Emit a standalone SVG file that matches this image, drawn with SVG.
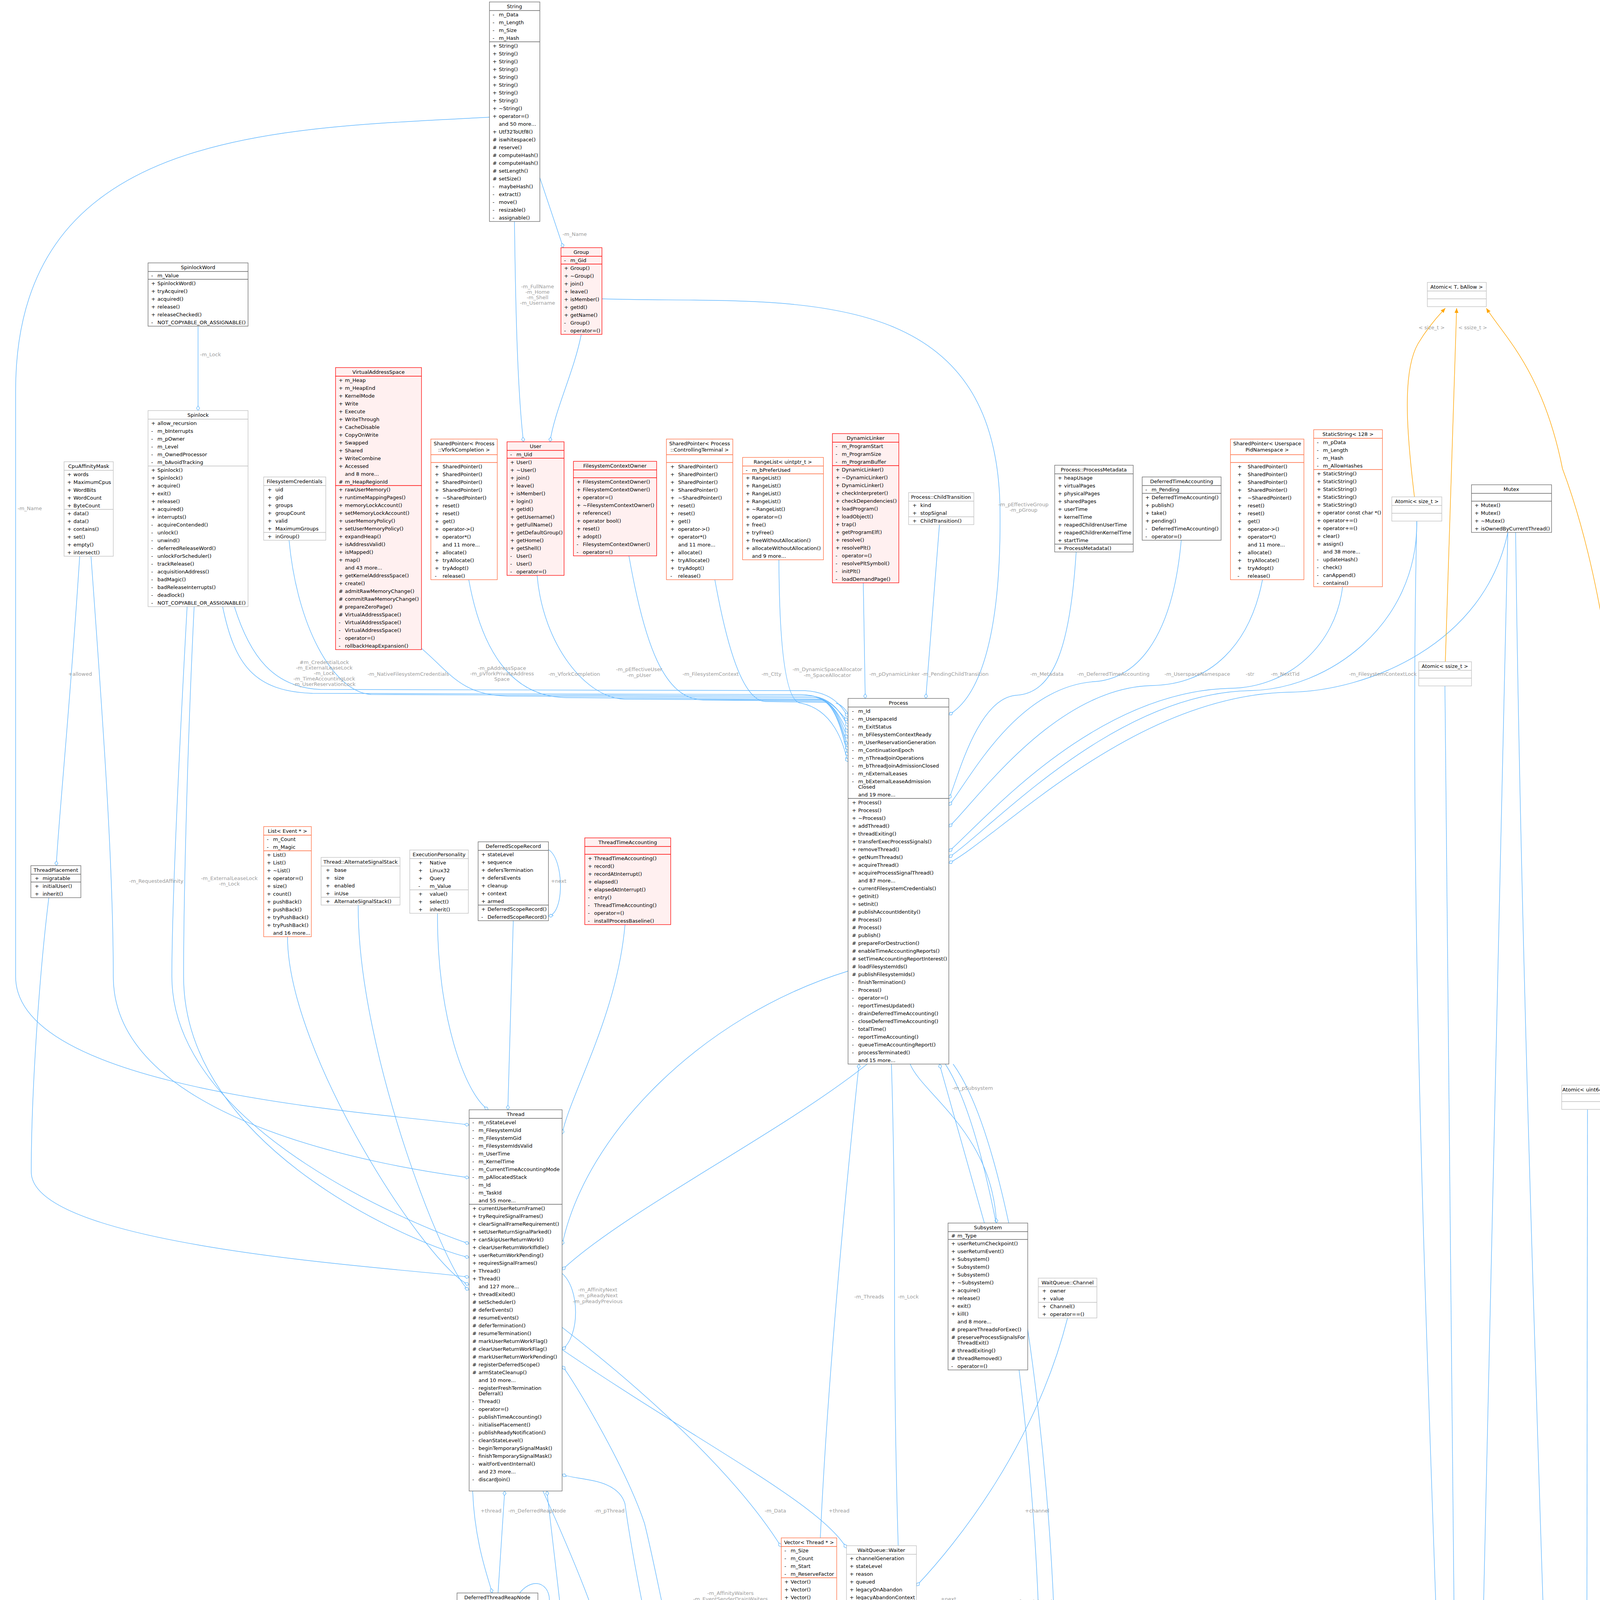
<svg xmlns="http://www.w3.org/2000/svg" width="4266" height="6691" viewBox="0 0 4266 6691">
<style>
text{font-family:"DejaVu Sans",sans-serif;font-size:13px;fill:#000}
.t{text-anchor:middle}
.e{fill:#9c9c9c;text-anchor:middle}
.es{fill:#9c9c9c}
.n path{fill:none;stroke-width:1.3}
.n rect{stroke-width:1.3}
.nb rect{fill:#fff;stroke:#666}.nb path{stroke:#666}
.ng rect{fill:#fff;stroke:#bfbfbf}.ng path{stroke:#bfbfbf}
.nr rect{fill:#fff0f0;stroke:#f00}.nr path{stroke:#f00}
.no rect{fill:#fff;stroke:#ff6a3d}.no path{stroke:#ff6a3d}
.nx rect{fill:#999;stroke:#666}
#edges path{fill:none;stroke:#63b8ff;stroke-width:1.4}
#edges path.or{stroke:#ffa500}
</style>
<defs>
<marker id="d" viewBox="0 0 14 10" markerWidth="14" markerHeight="10" refX="13" refY="5" orient="auto" markerUnits="userSpaceOnUse"><path d="M1,5 L7,1 13,5 7,9 z" fill="#fff" stroke="#63b8ff" stroke-width="1.3"/></marker>
<marker id="a" viewBox="0 0 12 10" markerWidth="12" markerHeight="10" refX="12" refY="5" orient="auto" markerUnits="userSpaceOnUse"><path d="M0,0 L12,5 0,10 z" fill="#ffa500"/></marker>
<marker id="h" viewBox="0 0 14 12" markerWidth="14" markerHeight="12" refX="13" refY="6" orient="auto" markerUnits="userSpaceOnUse"><path d="M1,1 L13,6 1,11 z" fill="#fff" stroke="#63b8ff" stroke-width="1.3"/></marker>
</defs>
<rect width="4266" height="6691" fill="#fff"/>
<g id="edges">
<path d="M1317,567 C1320,800 1325,1000 1340,1131" marker-end="url(#d)"/>
<path d="M1488,856 C1470,950 1420,1050 1408,1131" marker-end="url(#d)"/>
<path d="M1382,455 L1442,634" marker-end="url(#d)"/>
<path d="M507,835 L507,1051" marker-end="url(#d)"/>
<path d="M1253,300 C700,330 40,330 40,1000 L40,2500 C40,2800 1000,2850 1201,2880" marker-end="url(#d)"/>
<path d="M570,1553 C600,1700 650,1770 800,1775 L2050,1778 C2130,1780 2150,1830 2171,1845" marker-end="url(#d)"/>
<path d="M600,1553 C640,1680 700,1760 820,1765 L2060,1768 C2140,1772 2160,1820 2171,1835" marker-end="url(#d)"/>
<path d="M740,1383 C760,1600 850,1770 950,1778 L2080,1782 C2140,1790 2160,1840 2171,1860" marker-end="url(#d)"/>
<path d="M1079,1660 C1150,1720 1180,1780 1300,1782 L2090,1786 C2140,1795 2160,1860 2171,1875" marker-end="url(#d)"/>
<path d="M1200,1484 C1230,1650 1300,1784 1450,1786 L2100,1790 C2145,1800 2162,1880 2171,1890" marker-end="url(#d)"/>
<path d="M1375,1473 C1390,1650 1500,1788 1600,1790 L2105,1792 C2150,1810 2163,1900 2171,1905" marker-end="url(#d)"/>
<path d="M1610,1423 C1650,1650 1700,1790 1800,1792 L2110,1795 C2150,1820 2165,1910 2171,1920" marker-end="url(#d)"/>
<path d="M1830,1484 C1860,1650 1900,1794 1960,1796 L2115,1798 C2152,1830 2166,1925 2171,1935" marker-end="url(#d)"/>
<path d="M1994,1433 C1995,1650 2010,1798 2050,1800 C2150,1820 2165,1940 2171,1950" marker-end="url(#d)"/>
<path d="M2210,1492 L2215,1788" marker-end="url(#d)"/>
<path d="M2405,1343 L2370,1788" marker-end="url(#d)"/>
<path d="M1541,765 C2000,780 2550,700 2560,1300 C2565,1700 2480,1800 2429,1830" marker-end="url(#d)"/>
<path d="M2755,1413 C2740,1650 2700,1776 2600,1780 C2500,1790 2450,2000 2429,2045" marker-end="url(#d)"/>
<path d="M3024,1383 C3000,1650 2900,1740 2800,1745 C2600,1760 2480,2000 2429,2062" marker-end="url(#d)"/>
<path d="M3232,1484 C3200,1650 3100,1752 2950,1755 C2700,1760 2500,2050 2429,2117" marker-end="url(#d)"/>
<path d="M3437,1502 C3420,1650 3300,1760 3150,1762 C2800,1770 2520,2100 2429,2180" marker-end="url(#d)"/>
<path d="M3627,1334 C3630,1600 3400,1765 3200,1768 C2850,1775 2540,2120 2429,2195" marker-end="url(#d)"/>
<path d="M3860,1363 C3800,1650 3500,1770 3300,1772 C2900,1780 2560,2140 2429,2210" marker-end="url(#d)"/>
<path d="M2100,3937 C2120,3500 2170,3000 2199,2724" marker-end="url(#d)"/>
<path d="M2140,1800 C2260,1830 2290,2600 2290,3300 C2290,4000 2320,4500 2342,4640" marker-end="url(#d)"/>
<path d="M2520,3131 L2405,2724" marker-end="url(#d)"/>
<path d="M2330,2724 C2360,2800 2540,2900 2551,3131" marker-end="url(#d)"/>
<path d="M2171,2486 C1800,2600 1500,2900 1439,3187" marker-end="url(#d)"/>
<path d="M2220,2724 C2000,2900 1600,3100 1439,3251" marker-end="url(#d)"/>
<path d="M233,1424 C260,1800 290,2200 290,2500 C290,2900 1100,3000 1201,3015" marker-end="url(#d)"/>
<path d="M204,1424 C180,1800 150,2100 144,2216" marker-end="url(#d)"/>
<path d="M479,1553 C460,1900 440,2300 440,2500 C440,2900 1100,3150 1201,3184" marker-end="url(#d)"/>
<path d="M497,1553 C480,1900 470,2300 470,2500 C470,2950 1100,3200 1201,3219" marker-end="url(#d)"/>
<path d="M125,2298 C100,2500 80,2800 80,3000 C80,3200 1100,3250 1201,3270" marker-end="url(#d)"/>
<path d="M736,2398 C736,2700 1100,3250 1201,3289" marker-end="url(#d)"/>
<path d="M917,2317 C915,2700 1150,3280 1201,3302" marker-end="url(#d)"/>
<path d="M1120,2338 C1118,2600 1190,2800 1250,2841" marker-end="url(#d)"/>
<path d="M1314,2357 L1300,2841" marker-end="url(#d)"/>
<path d="M1404,2175 C1445,2200 1445,2340 1404,2345" marker-end="url(#d)"/>
<path d="M1600,2367 C1580,2600 1460,2800 1439,2903" marker-end="url(#d)"/>
<path d="M1439,3260 C1485,3300 1485,3420 1439,3455" marker-end="url(#d)"/>
<path d="M1210,3817 C1215,3950 1250,4040 1260,4078" marker-end="url(#d)"/>
<path d="M1275,4078 L1292,3817" marker-end="url(#d)"/>
<path d="M1330,4078 C1370,4030 1415,4060 1405,4110 C1395,4150 1345,4150 1320,4140" marker-end="url(#d)"/>
<path d="M1275,4140 L1282,5022" marker-end="url(#d)"/>
<path d="M1390,3817 C1450,3950 1560,4200 1566,4307" marker-end="url(#d)"/>
<path d="M1758,4595 C1700,4400 1620,4000 1600,3850 C1580,3780 1470,3790 1439,3774" marker-end="url(#d)"/>
<path d="M2342,4680 C2100,4560 1900,4560 1830,4520 C1740,4400 1700,4100 1650,3900 C1600,3750 1460,3520 1439,3497" marker-end="url(#d)"/>
<path d="M1439,3398 C1700,3600 1900,3800 2000,3960" marker-end="url(#d)"/>
<path d="M1439,3455 C1800,3700 2100,3850 2167,3963" marker-end="url(#d)"/>
<path d="M2733,3374 C2650,3700 2450,3950 2346,4060" marker-end="url(#d)"/>
<path d="M2346,4200 C2385,4180 2385,4115 2346,4112" marker-end="url(#d)"/>
<path d="M2180,4259 C2150,4300 2000,4280 1930,4300 C1830,4400 1825,4550 1825,4595" marker-end="url(#d)"/>
<path d="M2250,4259 C2255,4450 2300,4580 2342,4620" marker-end="url(#d)"/>
<path d="M2438,4600 C2440,4400 2420,4300 2346,4213" marker-end="url(#d)"/>
<path d="M2420,2724 C2600,3000 2700,4200 2650,4600 C2500,5200 1900,5700 1791,5845" marker-end="url(#d)"/>
<path d="M2440,2724 C2640,3000 2740,4200 2690,4620 C2540,5230 1930,5760 1791,5870" marker-end="url(#d)"/>
<path d="M1580,5791 C1560,5200 1480,4500 1400,3817" marker-end="url(#d)"/>
<path d="M1357,5302 C1370,5500 1400,5700 1500,5760 C1560,5790 1600,5780 1637,5791" marker-end="url(#d)"/>
<path d="M1527,5950 C900,5900 700,5700 650,5563" marker-end="url(#h)"/>
<path d="M833,5599 C830,5800 1300,5950 1527,5990" marker-end="url(#d)"/>
<path d="M1030,5660 C1040,5850 1400,6000 1527,6010" marker-end="url(#d)"/>
<path d="M1233,5664 C1240,5850 1450,6000 1527,6030" marker-end="url(#d)"/>
<path d="M2600,5640 C2500,5900 1900,6150 1791,6160" marker-end="url(#d)"/>
<path d="M2380,5640 C2300,5900 1900,6100 1791,6140" marker-end="url(#d)"/>
<path d="M2845,5550 C2800,5750 2000,5900 1791,5970" marker-end="url(#d)"/>
<path d="M2890,5488 C2940,5450 2990,5500 2975,5545 C2960,5575 2910,5565 2880,5550" marker-end="url(#d)"/>
<path d="M2384,4982 C2370,5100 2365,5300 2369,5418" marker-end="url(#d)"/>
<path d="M2457,4982 L2487,5300 L2506,5358" marker-end="url(#d)"/>
<path d="M2541,4965 L2838,5488" marker-end="url(#d)"/>
<path d="M3700,5282 C3400,5600 2200,5950 1791,6000" marker-end="url(#d)"/>
<path d="M3880,1363 C3900,3000 3990,5000 4010,6225" marker-end="url(#d)"/>
<path d="M3860,1363 L3780,4900" marker-end="url(#d)"/>
<path d="M3627,1334 C3600,2500 3680,4000 3700,4900" marker-end="url(#d)"/>
<path d="M3699,1756 L3730,4900" marker-end="url(#d)"/>
<path d="M4064,2840 L4060,6225" marker-end="url(#d)"/>
<path d="M3800,5282 C3850,5700 3950,6100 3990,6225" marker-end="url(#d)"/>
<path d="M1791,6400 C2500,6350 3500,6300 3950,6250" marker-end="url(#d)"/>
<path d="M2541,4800 C3000,5200 3600,5900 3950,6238" marker-end="url(#d)"/>
<path d="M2947,5520 C3300,5700 3700,6000 3950,6260" marker-end="url(#d)"/>
<path class="or" d="M3621,1272 C3600,1100 3590,950 3630,880 C3660,830 3690,800 3700,789" marker-end="url(#a)"/>
<path class="or" d="M3700,1694 L3729,789" marker-end="url(#a)"/>
<path class="or" d="M4180,2778 C4180,2200 4150,1600 4000,1200 C3950,950 3850,860 3805,789" marker-end="url(#a)"/>
</g>
<g id="labels">
<text class="e" x="1376" y="738">-m_FullName</text><text class="e" x="1376" y="752">-m_Home</text><text class="e" x="1376" y="766">-m_Shell</text><text class="e" x="1376" y="780">-m_Username</text>
<text class="es" x="1440" y="604">-m_Name</text>
<text class="es" x="512" y="912">-m_Lock</text>
<text class="es" x="45" y="1306">-m_Name</text>
<text class="e" x="830" y="1700">#m_CredentialLock</text><text class="e" x="830" y="1714">-m_ExternalLeaseLock</text><text class="e" x="830" y="1728">-m_Lock</text><text class="e" x="830" y="1742">-m_TimeAccountingLock</text><text class="e" x="830" y="1756">-m_UserReservationLock</text>
<text class="e" x="1045" y="1730">-m_NativeFilesystemCredentials</text>
<text class="e" x="1285" y="1715">-m_pAddressSpace</text><text class="e" x="1285" y="1729">-m_pVforkPrivateAddress</text><text class="e" x="1285" y="1743">Space</text>
<text class="e" x="1470" y="1730">-m_VforkCompletion</text>
<text class="e" x="1636" y="1718">-m_pEffectiveUser</text><text class="e" x="1636" y="1733">-m_pUser</text>
<text class="e" x="1819" y="1730">-m_FilesystemContext</text>
<text class="e" x="1975" y="1730">-m_Ctty</text>
<text class="e" x="2118" y="1718">-m_DynamicSpaceAllocator</text><text class="e" x="2118" y="1733">-m_SpaceAllocator</text>
<text class="e" x="2290" y="1730">-m_pDynamicLinker</text>
<text class="e" x="2445" y="1730">-m_PendingChildTransition</text>
<text class="e" x="2620" y="1296">-m_pEffectiveGroup</text><text class="e" x="2620" y="1310">-m_pGroup</text>
<text class="e" x="2680" y="1730">-m_Metadata</text>
<text class="e" x="2850" y="1730">-m_DeferredTimeAccounting</text>
<text class="e" x="3065" y="1730">-m_UserspaceNamespace</text>
<text class="e" x="3200" y="1730">-str</text>
<text class="e" x="3290" y="1730">-m_NextTid</text>
<text class="e" x="3540" y="1730">-m_FilesystemContextLock</text>
<text class="e" x="3665" y="843">&lt; size_t &gt;</text>
<text class="e" x="3770" y="843">&lt; ssize_t &gt;</text>
<text class="e" x="4218" y="1307">&lt; uint64_t &gt;</text>
<text class="e" x="205" y="1730">+allowed</text>
<text class="e" x="400" y="2260">-m_RequestedAffinity</text>
<text class="e" x="587" y="2253">-m_ExternalLeaseLock</text><text class="e" x="587" y="2267">-m_Lock</text>
<text class="e" x="1430" y="2260">+next</text>
<text class="e" x="1530" y="3306">-m_AffinityNext</text><text class="e" x="1530" y="3321">-m_pReadyNext</text><text class="e" x="1530" y="3336">-m_pReadyPrevious</text>
<text class="e" x="2225" y="3324">-m_Threads</text>
<text class="e" x="2325" y="3324">-m_Lock</text>
<text class="e" x="2490" y="2790">-m_pSubsystem</text>
<text class="e" x="1257" y="3872">+thread</text>
<text class="e" x="1375" y="3872">-m_DeferredReapNode</text>
<text class="e" x="1428" y="4112">+next</text>
<text class="e" x="1320" y="4426">-m_Head</text><text class="e" x="1320" y="4441">-m_Stub</text><text class="e" x="1320" y="4456">-m_Tail</text>
<text class="e" x="1560" y="3872">-m_pThread</text>
<text class="e" x="1705" y="4112">-m_StateLevels</text>
<text class="e" x="1870" y="4083">-m_AffinityWaiters</text><text class="e" x="1870" y="4098">-m_EventSenderDrainWaiters</text><text class="e" x="1870" y="4113">-m_EventWaiters</text><text class="e" x="1870" y="4128">-m_ExternalLeaseWaiters</text><text class="e" x="1870" y="4143">-m_JoinWaiters</text>
<text class="e" x="1985" y="3872">-m_Data</text>
<text class="e" x="2148" y="3872">+thread</text>
<text class="e" x="2655" y="3872">+channel</text>
<text class="e" x="2428" y="4098">+next</text><text class="e" x="2428" y="4113">+notificationNext</text><text class="e" x="2428" y="4128">+previous</text>
<text class="e" x="1960" y="4444">+m_Waiter</text>
<text class="e" x="2355" y="4434">-m_pFirstWaiter</text><text class="e" x="2355" y="4449">-m_pLastWaiter</text>
<text class="e" x="2467" y="4444">+queue</text>
<text class="e" x="2650" y="4105">-m_DeferredThreadReaps</text><text class="e" x="2650" y="4120">-m_TimeAccountingReports</text>
<text class="e" x="1575" y="4796">-m_pScheduler</text>
<text class="e" x="1480" y="5524">-m_DeferredReapQueue</text>
<text class="e" x="2420" y="5162">-m_Waiters</text>
<text class="e" x="2530" y="5162">-m_Waiters</text>
<text class="e" x="2782" y="5162">-m_pWaiters</text>
</g>
<g id="String" class="n nb"><rect x="1253" y="5" width="129" height="562"/><path d="M1253 27H1382M1253 107H1382"/><text class="t" x="1317" y="21">String</text>
<text x="1261" y="42">-<tspan x="1277">m_Data</tspan></text><text x="1261" y="62">-<tspan x="1277">m_Length</tspan></text><text x="1261" y="82">-<tspan x="1277">m_Size</tspan></text><text x="1261" y="102">-<tspan x="1277">m_Hash</tspan></text>
<text x="1261" y="122">+<tspan x="1277">String()</tspan></text><text x="1261" y="142">+<tspan x="1277">String()</tspan></text><text x="1261" y="162">+<tspan x="1277">String()</tspan></text><text x="1261" y="182">+<tspan x="1277">String()</tspan></text><text x="1261" y="202">+<tspan x="1277">String()</tspan></text><text x="1261" y="222">+<tspan x="1277">String()</tspan></text><text x="1261" y="242">+<tspan x="1277">String()</tspan></text><text x="1261" y="262">+<tspan x="1277">String()</tspan></text><text x="1261" y="282">+<tspan x="1277">~String()</tspan></text><text x="1261" y="302">+<tspan x="1277">operator=()</tspan></text><text x="1277" y="322">and 50 more...</text><text x="1261" y="342">+<tspan x="1277">Utf32ToUtf8()</tspan></text><text x="1261" y="362">#<tspan x="1277">iswhitespace()</tspan></text><text x="1261" y="382">#<tspan x="1277">reserve()</tspan></text><text x="1261" y="402">#<tspan x="1277">computeHash()</tspan></text><text x="1261" y="422">#<tspan x="1277">computeHash()</tspan></text><text x="1261" y="442">#<tspan x="1277">setLength()</tspan></text><text x="1261" y="462">#<tspan x="1277">setSize()</tspan></text><text x="1261" y="482">-<tspan x="1277">maybeHash()</tspan></text><text x="1261" y="502">-<tspan x="1277">extract()</tspan></text><text x="1261" y="522">-<tspan x="1277">move()</tspan></text><text x="1261" y="542">-<tspan x="1277">resizable()</tspan></text><text x="1261" y="562">-<tspan x="1277">assignable()</tspan></text></g>
<g id="Group" class="n nr"><rect x="1436" y="634" width="105" height="222"/><path d="M1436 656H1541M1436 676H1541"/><text class="t" x="1488" y="650">Group</text>
<text x="1444" y="671">-<tspan x="1460">m_Gid</tspan></text>
<text x="1444" y="691">+<tspan x="1460">Group()</tspan></text><text x="1444" y="711">+<tspan x="1460">~Group()</tspan></text><text x="1444" y="731">+<tspan x="1460">join()</tspan></text><text x="1444" y="751">+<tspan x="1460">leave()</tspan></text><text x="1444" y="771">+<tspan x="1460">isMember()</tspan></text><text x="1444" y="791">+<tspan x="1460">getId()</tspan></text><text x="1444" y="811">+<tspan x="1460">getName()</tspan></text><text x="1444" y="831">-<tspan x="1460">Group()</tspan></text><text x="1444" y="851">-<tspan x="1460">operator=()</tspan></text></g>
<g id="SpinlockWord" class="n nb"><rect x="379" y="673" width="256" height="162"/><path d="M379 695H635M379 715H635"/><text class="t" x="507" y="689">SpinlockWord</text>
<text x="387" y="710">-<tspan x="403">m_Value</tspan></text>
<text x="387" y="730">+<tspan x="403">SpinlockWord()</tspan></text><text x="387" y="750">+<tspan x="403">tryAcquire()</tspan></text><text x="387" y="770">+<tspan x="403">acquired()</tspan></text><text x="387" y="790">+<tspan x="403">release()</tspan></text><text x="387" y="810">+<tspan x="403">releaseChecked()</tspan></text><text x="387" y="830">-<tspan x="403">NOT_COPYABLE_OR_ASSIGNABLE()</tspan></text></g>
<g id="Spinlock" class="n ng"><rect x="379" y="1051" width="256" height="502"/><path d="M379 1073H635M379 1193H635"/><text class="t" x="507" y="1067">Spinlock</text>
<text x="387" y="1088">+<tspan x="403">allow_recursion</tspan></text><text x="387" y="1108">-<tspan x="403">m_bInterrupts</tspan></text><text x="387" y="1128">-<tspan x="403">m_pOwner</tspan></text><text x="387" y="1148">-<tspan x="403">m_Level</tspan></text><text x="387" y="1168">-<tspan x="403">m_OwnedProcessor</tspan></text><text x="387" y="1188">-<tspan x="403">m_bAvoidTracking</tspan></text>
<text x="387" y="1208">+<tspan x="403">Spinlock()</tspan></text><text x="387" y="1228">+<tspan x="403">Spinlock()</tspan></text><text x="387" y="1248">+<tspan x="403">acquire()</tspan></text><text x="387" y="1268">+<tspan x="403">exit()</tspan></text><text x="387" y="1288">+<tspan x="403">release()</tspan></text><text x="387" y="1308">+<tspan x="403">acquired()</tspan></text><text x="387" y="1328">+<tspan x="403">interrupts()</tspan></text><text x="387" y="1348">-<tspan x="403">acquireContended()</tspan></text><text x="387" y="1368">-<tspan x="403">unlock()</tspan></text><text x="387" y="1388">-<tspan x="403">unwind()</tspan></text><text x="387" y="1408">-<tspan x="403">deferredReleaseWord()</tspan></text><text x="387" y="1428">-<tspan x="403">unlockForScheduler()</tspan></text><text x="387" y="1448">-<tspan x="403">trackRelease()</tspan></text><text x="387" y="1468">-<tspan x="403">acquisitionAddress()</tspan></text><text x="387" y="1488">-<tspan x="403">badMagic()</tspan></text><text x="387" y="1508">-<tspan x="403">badReleaseInterrupts()</tspan></text><text x="387" y="1528">-<tspan x="403">deadlock()</tspan></text><text x="387" y="1548">-<tspan x="403">NOT_COPYABLE_OR_ASSIGNABLE()</tspan></text></g>
<g id="CpuAffinityMask" class="n ng"><rect x="164" y="1182" width="126" height="242"/><path d="M164 1204H290M164 1304H290"/><text class="t" x="227" y="1198">CpuAffinityMask</text>
<text x="172" y="1219">+<tspan x="188">words</tspan></text><text x="172" y="1239">+<tspan x="188">MaximumCpus</tspan></text><text x="172" y="1259">+<tspan x="188">WordBits</tspan></text><text x="172" y="1279">+<tspan x="188">WordCount</tspan></text><text x="172" y="1299">+<tspan x="188">ByteCount</tspan></text>
<text x="172" y="1319">+<tspan x="188">data()</tspan></text><text x="172" y="1339">+<tspan x="188">data()</tspan></text><text x="172" y="1359">+<tspan x="188">contains()</tspan></text><text x="172" y="1379">+<tspan x="188">set()</tspan></text><text x="172" y="1399">+<tspan x="188">empty()</tspan></text><text x="172" y="1419">+<tspan x="188">intersect()</tspan></text></g>
<g id="FilesystemCredentials" class="n ng"><rect x="675" y="1221" width="159" height="162"/><path d="M675 1243H834M675 1363H834"/><text class="t" x="754" y="1237">FilesystemCredentials</text>
<text x="685" y="1258">+<tspan x="705">uid</tspan></text><text x="685" y="1278">+<tspan x="705">gid</tspan></text><text x="685" y="1298">+<tspan x="705">groups</tspan></text><text x="685" y="1318">+<tspan x="705">groupCount</tspan></text><text x="685" y="1338">+<tspan x="705">valid</tspan></text><text x="685" y="1358">+<tspan x="705">MaximumGroups</tspan></text><text x="685" y="1378">+<tspan x="705">inGroup()</tspan></text></g>
<g id="VirtualAddressSpace" class="n nr"><rect x="859" y="941" width="220" height="722"/><path d="M859 963H1079M859 1243H1079"/><text class="t" x="969" y="957">VirtualAddressSpace</text>
<text x="867" y="978">+<tspan x="883">m_Heap</tspan></text><text x="867" y="998">+<tspan x="883">m_HeapEnd</tspan></text><text x="867" y="1018">+<tspan x="883">KernelMode</tspan></text><text x="867" y="1038">+<tspan x="883">Write</tspan></text><text x="867" y="1058">+<tspan x="883">Execute</tspan></text><text x="867" y="1078">+<tspan x="883">WriteThrough</tspan></text><text x="867" y="1098">+<tspan x="883">CacheDisable</tspan></text><text x="867" y="1118">+<tspan x="883">CopyOnWrite</tspan></text><text x="867" y="1138">+<tspan x="883">Swapped</tspan></text><text x="867" y="1158">+<tspan x="883">Shared</tspan></text><text x="867" y="1178">+<tspan x="883">WriteCombine</tspan></text><text x="867" y="1198">+<tspan x="883">Accessed</tspan></text><text x="883" y="1218">and 8 more...</text><text x="867" y="1238">#<tspan x="883">m_HeapRegionId</tspan></text>
<text x="867" y="1258">+<tspan x="883">rawUserMemory()</tspan></text><text x="867" y="1278">+<tspan x="883">runtimeMappingPages()</tspan></text><text x="867" y="1298">+<tspan x="883">memoryLockAccount()</tspan></text><text x="867" y="1318">+<tspan x="883">setMemoryLockAccount()</tspan></text><text x="867" y="1338">+<tspan x="883">userMemoryPolicy()</tspan></text><text x="867" y="1358">+<tspan x="883">setUserMemoryPolicy()</tspan></text><text x="867" y="1378">+<tspan x="883">expandHeap()</tspan></text><text x="867" y="1398">+<tspan x="883">isAddressValid()</tspan></text><text x="867" y="1418">+<tspan x="883">isMapped()</tspan></text><text x="867" y="1438">+<tspan x="883">map()</tspan></text><text x="883" y="1458">and 43 more...</text><text x="867" y="1478">+<tspan x="883">getKernelAddressSpace()</tspan></text><text x="867" y="1498">+<tspan x="883">create()</tspan></text><text x="867" y="1518">#<tspan x="883">admitRawMemoryChange()</tspan></text><text x="867" y="1538">#<tspan x="883">commitRawMemoryChange()</tspan></text><text x="867" y="1558">#<tspan x="883">prepareZeroPage()</tspan></text><text x="867" y="1578">#<tspan x="883">VirtualAddressSpace()</tspan></text><text x="867" y="1598">-<tspan x="883">VirtualAddressSpace()</tspan></text><text x="867" y="1618">-<tspan x="883">VirtualAddressSpace()</tspan></text><text x="867" y="1638">-<tspan x="883">operator=()</tspan></text><text x="867" y="1658">-<tspan x="883">rollbackHeapExpansion()</tspan></text></g>
<g id="SharedPointerVforkCompletion" class="n no"><rect x="1103" y="1124" width="170" height="360"/><path d="M1103 1164H1273M1103 1184H1273"/><text class="t" x="1188" y="1140">SharedPointer&lt; Process</text><text class="t" x="1188" y="1156">::VforkCompletion &gt;</text>
<text x="1113" y="1199">+<tspan x="1133">SharedPointer()</tspan></text><text x="1113" y="1219">+<tspan x="1133">SharedPointer()</tspan></text><text x="1113" y="1239">+<tspan x="1133">SharedPointer()</tspan></text><text x="1113" y="1259">+<tspan x="1133">SharedPointer()</tspan></text><text x="1113" y="1279">+<tspan x="1133">~SharedPointer()</tspan></text><text x="1113" y="1299">+<tspan x="1133">reset()</tspan></text><text x="1113" y="1319">+<tspan x="1133">reset()</tspan></text><text x="1113" y="1339">+<tspan x="1133">get()</tspan></text><text x="1113" y="1359">+<tspan x="1133">operator-&gt;()</tspan></text><text x="1113" y="1379">+<tspan x="1133">operator*()</tspan></text><text x="1133" y="1399">and 11 more...</text><text x="1113" y="1419">+<tspan x="1133">allocate()</tspan></text><text x="1113" y="1439">+<tspan x="1133">tryAllocate()</tspan></text><text x="1113" y="1459">+<tspan x="1133">tryAdopt()</tspan></text><text x="1113" y="1479">-<tspan x="1133">release()</tspan></text></g>
<g id="User" class="n nr"><rect x="1298" y="1131" width="146" height="342"/><path d="M1298 1153H1444M1298 1173H1444"/><text class="t" x="1371" y="1147">User</text>
<text x="1306" y="1168">-<tspan x="1322">m_Uid</tspan></text>
<text x="1306" y="1188">+<tspan x="1322">User()</tspan></text><text x="1306" y="1208">+<tspan x="1322">~User()</tspan></text><text x="1306" y="1228">+<tspan x="1322">join()</tspan></text><text x="1306" y="1248">+<tspan x="1322">leave()</tspan></text><text x="1306" y="1268">+<tspan x="1322">isMember()</tspan></text><text x="1306" y="1288">+<tspan x="1322">login()</tspan></text><text x="1306" y="1308">+<tspan x="1322">getId()</tspan></text><text x="1306" y="1328">+<tspan x="1322">getUsername()</tspan></text><text x="1306" y="1348">+<tspan x="1322">getFullName()</tspan></text><text x="1306" y="1368">+<tspan x="1322">getDefaultGroup()</tspan></text><text x="1306" y="1388">+<tspan x="1322">getHome()</tspan></text><text x="1306" y="1408">+<tspan x="1322">getShell()</tspan></text><text x="1306" y="1428">-<tspan x="1322">User()</tspan></text><text x="1306" y="1448">-<tspan x="1322">User()</tspan></text><text x="1306" y="1468">-<tspan x="1322">operator=()</tspan></text></g>
<g id="FilesystemContextOwner" class="n nr"><rect x="1468" y="1181" width="213" height="242"/><path d="M1468 1203H1681M1468 1223H1681"/><text class="t" x="1574" y="1197">FilesystemContextOwner</text>
<text x="1476" y="1238">+<tspan x="1492">FilesystemContextOwner()</tspan></text><text x="1476" y="1258">+<tspan x="1492">FilesystemContextOwner()</tspan></text><text x="1476" y="1278">+<tspan x="1492">operator=()</tspan></text><text x="1476" y="1298">+<tspan x="1492">~FilesystemContextOwner()</tspan></text><text x="1476" y="1318">+<tspan x="1492">reference()</tspan></text><text x="1476" y="1338">+<tspan x="1492">operator bool()</tspan></text><text x="1476" y="1358">+<tspan x="1492">reset()</tspan></text><text x="1476" y="1378">+<tspan x="1492">adopt()</tspan></text><text x="1476" y="1398">-<tspan x="1492">FilesystemContextOwner()</tspan></text><text x="1476" y="1418">-<tspan x="1492">operator=()</tspan></text></g>
<g id="SharedPointerControllingTerminal" class="n no"><rect x="1706" y="1124" width="170" height="360"/><path d="M1706 1164H1876M1706 1184H1876"/><text class="t" x="1791" y="1140">SharedPointer&lt; Process</text><text class="t" x="1791" y="1156">::ControllingTerminal &gt;</text>
<text x="1716" y="1199">+<tspan x="1736">SharedPointer()</tspan></text><text x="1716" y="1219">+<tspan x="1736">SharedPointer()</tspan></text><text x="1716" y="1239">+<tspan x="1736">SharedPointer()</tspan></text><text x="1716" y="1259">+<tspan x="1736">SharedPointer()</tspan></text><text x="1716" y="1279">+<tspan x="1736">~SharedPointer()</tspan></text><text x="1716" y="1299">+<tspan x="1736">reset()</tspan></text><text x="1716" y="1319">+<tspan x="1736">reset()</tspan></text><text x="1716" y="1339">+<tspan x="1736">get()</tspan></text><text x="1716" y="1359">+<tspan x="1736">operator-&gt;()</tspan></text><text x="1716" y="1379">+<tspan x="1736">operator*()</tspan></text><text x="1736" y="1399">and 11 more...</text><text x="1716" y="1419">+<tspan x="1736">allocate()</tspan></text><text x="1716" y="1439">+<tspan x="1736">tryAllocate()</tspan></text><text x="1716" y="1459">+<tspan x="1736">tryAdopt()</tspan></text><text x="1716" y="1479">-<tspan x="1736">release()</tspan></text></g>
<g id="RangeList" class="n no"><rect x="1901" y="1171" width="207" height="262"/><path d="M1901 1193H2108M1901 1213H2108"/><text class="t" x="2004" y="1187">RangeList&lt; uintptr_t &gt;</text>
<text x="1909" y="1208">-<tspan x="1925">m_bPreferUsed</tspan></text>
<text x="1909" y="1228">+<tspan x="1925">RangeList()</tspan></text><text x="1909" y="1248">+<tspan x="1925">RangeList()</tspan></text><text x="1909" y="1268">+<tspan x="1925">RangeList()</tspan></text><text x="1909" y="1288">+<tspan x="1925">RangeList()</tspan></text><text x="1909" y="1308">+<tspan x="1925">~RangeList()</tspan></text><text x="1909" y="1328">+<tspan x="1925">operator=()</tspan></text><text x="1909" y="1348">+<tspan x="1925">free()</tspan></text><text x="1909" y="1368">+<tspan x="1925">tryFree()</tspan></text><text x="1909" y="1388">+<tspan x="1925">freeWithoutAllocation()</tspan></text><text x="1909" y="1408">+<tspan x="1925">allocateWithoutAllocation()</tspan></text><text x="1925" y="1428">and 9 more...</text></g>
<g id="DynamicLinker" class="n nr"><rect x="2131" y="1110" width="170" height="382"/><path d="M2131 1132H2301M2131 1192H2301"/><text class="t" x="2216" y="1126">DynamicLinker</text>
<text x="2139" y="1147">-<tspan x="2155">m_ProgramStart</tspan></text><text x="2139" y="1167">-<tspan x="2155">m_ProgramSize</tspan></text><text x="2139" y="1187">-<tspan x="2155">m_ProgramBuffer</tspan></text>
<text x="2139" y="1207">+<tspan x="2155">DynamicLinker()</tspan></text><text x="2139" y="1227">+<tspan x="2155">~DynamicLinker()</tspan></text><text x="2139" y="1247">+<tspan x="2155">DynamicLinker()</tspan></text><text x="2139" y="1267">+<tspan x="2155">checkInterpreter()</tspan></text><text x="2139" y="1287">+<tspan x="2155">checkDependencies()</tspan></text><text x="2139" y="1307">+<tspan x="2155">loadProgram()</tspan></text><text x="2139" y="1327">+<tspan x="2155">loadObject()</tspan></text><text x="2139" y="1347">+<tspan x="2155">trap()</tspan></text><text x="2139" y="1367">+<tspan x="2155">getProgramElf()</tspan></text><text x="2139" y="1387">+<tspan x="2155">resolve()</tspan></text><text x="2139" y="1407">+<tspan x="2155">resolvePlt()</tspan></text><text x="2139" y="1427">-<tspan x="2155">operator=()</tspan></text><text x="2139" y="1447">-<tspan x="2155">resolvePltSymbol()</tspan></text><text x="2139" y="1467">-<tspan x="2155">initPlt()</tspan></text><text x="2139" y="1487">-<tspan x="2155">loadDemandPage()</tspan></text></g>
<g id="ChildTransition" class="n ng"><rect x="2326" y="1261" width="167" height="82"/><path d="M2326 1283H2493M2326 1323H2493"/><text class="t" x="2409" y="1277">Process::ChildTransition</text>
<text x="2336" y="1298">+<tspan x="2356">kind</tspan></text><text x="2336" y="1318">+<tspan x="2356">stopSignal</tspan></text><text x="2336" y="1338">+<tspan x="2356">ChildTransition()</tspan></text></g>
<g id="ProcessMetadata" class="n nb"><rect x="2700" y="1191" width="201" height="222"/><path d="M2700 1213H2901M2700 1393H2901"/><text class="t" x="2800" y="1207">Process::ProcessMetadata</text>
<text x="2708" y="1228">+<tspan x="2724">heapUsage</tspan></text><text x="2708" y="1248">+<tspan x="2724">virtualPages</tspan></text><text x="2708" y="1268">+<tspan x="2724">physicalPages</tspan></text><text x="2708" y="1288">+<tspan x="2724">sharedPages</tspan></text><text x="2708" y="1308">+<tspan x="2724">userTime</tspan></text><text x="2708" y="1328">+<tspan x="2724">kernelTime</tspan></text><text x="2708" y="1348">+<tspan x="2724">reapedChildrenUserTime</tspan></text><text x="2708" y="1368">+<tspan x="2724">reapedChildrenKernelTime</tspan></text><text x="2708" y="1388">+<tspan x="2724">startTime</tspan></text><text x="2708" y="1408">+<tspan x="2724">ProcessMetadata()</tspan></text></g>
<g id="DeferredTimeAccounting" class="n nb"><rect x="2924" y="1221" width="202" height="162"/><path d="M2924 1243H3126M2924 1263H3126"/><text class="t" x="3025" y="1237">DeferredTimeAccounting</text>
<text x="2932" y="1258">-<tspan x="2948">m_Pending</tspan></text>
<text x="2932" y="1278">+<tspan x="2948">DeferredTimeAccounting()</tspan></text><text x="2932" y="1298">+<tspan x="2948">publish()</tspan></text><text x="2932" y="1318">+<tspan x="2948">take()</tspan></text><text x="2932" y="1338">+<tspan x="2948">pending()</tspan></text><text x="2932" y="1358">-<tspan x="2948">DeferredTimeAccounting()</tspan></text><text x="2932" y="1378">-<tspan x="2948">operator=()</tspan></text></g>
<g id="SharedPointerUserspacePidNamespace" class="n no"><rect x="3150" y="1124" width="188" height="360"/><path d="M3150 1164H3338M3150 1184H3338"/><text class="t" x="3244" y="1140">SharedPointer&lt; Userspace</text><text class="t" x="3244" y="1156">PidNamespace &gt;</text>
<text x="3168" y="1199">+<tspan x="3194">SharedPointer()</tspan></text><text x="3168" y="1219">+<tspan x="3194">SharedPointer()</tspan></text><text x="3168" y="1239">+<tspan x="3194">SharedPointer()</tspan></text><text x="3168" y="1259">+<tspan x="3194">SharedPointer()</tspan></text><text x="3168" y="1279">+<tspan x="3194">~SharedPointer()</tspan></text><text x="3168" y="1299">+<tspan x="3194">reset()</tspan></text><text x="3168" y="1319">+<tspan x="3194">reset()</tspan></text><text x="3168" y="1339">+<tspan x="3194">get()</tspan></text><text x="3168" y="1359">+<tspan x="3194">operator-&gt;()</tspan></text><text x="3168" y="1379">+<tspan x="3194">operator*()</tspan></text><text x="3194" y="1399">and 11 more...</text><text x="3168" y="1419">+<tspan x="3194">allocate()</tspan></text><text x="3168" y="1439">+<tspan x="3194">tryAllocate()</tspan></text><text x="3168" y="1459">+<tspan x="3194">tryAdopt()</tspan></text><text x="3168" y="1479">-<tspan x="3194">release()</tspan></text></g>
<g id="StaticString" class="n no"><rect x="3363" y="1100" width="176" height="402"/><path d="M3363 1122H3539M3363 1202H3539"/><text class="t" x="3451" y="1116">StaticString&lt; 128 &gt;</text>
<text x="3371" y="1137">-<tspan x="3387">m_pData</tspan></text><text x="3371" y="1157">-<tspan x="3387">m_Length</tspan></text><text x="3371" y="1177">-<tspan x="3387">m_Hash</tspan></text><text x="3371" y="1197">-<tspan x="3387">m_AllowHashes</tspan></text>
<text x="3371" y="1217">+<tspan x="3387">StaticString()</tspan></text><text x="3371" y="1237">+<tspan x="3387">StaticString()</tspan></text><text x="3371" y="1257">+<tspan x="3387">StaticString()</tspan></text><text x="3371" y="1277">+<tspan x="3387">StaticString()</tspan></text><text x="3371" y="1297">+<tspan x="3387">StaticString()</tspan></text><text x="3371" y="1317">+<tspan x="3387">operator const char *()</tspan></text><text x="3371" y="1337">+<tspan x="3387">operator+=()</tspan></text><text x="3371" y="1357">+<tspan x="3387">operator+=()</tspan></text><text x="3371" y="1377">+<tspan x="3387">clear()</tspan></text><text x="3371" y="1397">+<tspan x="3387">assign()</tspan></text><text x="3387" y="1417">and 38 more...</text><text x="3371" y="1437">-<tspan x="3387">updateHash()</tspan></text><text x="3371" y="1457">-<tspan x="3387">check()</tspan></text><text x="3371" y="1477">-<tspan x="3387">canAppend()</tspan></text><text x="3371" y="1497">-<tspan x="3387">contains()</tspan></text></g>
<g id="AtomicSizeT" class="n ng"><rect x="3563" y="1272" width="128" height="62"/><path d="M3563 1294H3691M3563 1314H3691"/><text class="t" x="3627" y="1288">Atomic&lt; size_t &gt;</text></g>
<g id="AtomicT" class="n ng"><rect x="3654" y="723" width="151" height="62"/><path d="M3654 745H3805M3654 765H3805"/><text class="t" x="3729" y="739">Atomic&lt; T, bAllow &gt;</text></g>
<g id="Mutex" class="n nb"><rect x="3767" y="1241" width="205" height="122"/><path d="M3767 1263H3972M3767 1283H3972"/><text class="t" x="3869" y="1257">Mutex</text>
<text x="3775" y="1298">+<tspan x="3791">Mutex()</tspan></text><text x="3775" y="1318">+<tspan x="3791">Mutex()</tspan></text><text x="3775" y="1338">+<tspan x="3791">~Mutex()</tspan></text><text x="3775" y="1358">+<tspan x="3791">isOwnedByCurrentThread()</tspan></text></g>
<g id="AtomicSsizeT" class="n ng"><rect x="3632" y="1694" width="135" height="62"/><path d="M3632 1716H3767M3632 1736H3767"/><text class="t" x="3699" y="1710">Atomic&lt; ssize_t &gt;</text></g>
<g id="AtomicUint64" class="n ng"><rect x="3998" y="2778" width="132" height="62"/><path d="M3998 2800H4130M3998 2820H4130"/><text class="t" x="4064" y="2794">Atomic&lt; uint64_t &gt;</text></g>
<g id="Process" class="n nb"><rect x="2171" y="1788" width="258" height="936"/><path d="M2171 1810H2429M2171 2044H2429"/><text class="t" x="2300" y="1804">Process</text>
<text x="2181" y="1825">-<tspan x="2197">m_Id</tspan></text><text x="2181" y="1845">-<tspan x="2197">m_UserspaceId</tspan></text><text x="2181" y="1865">-<tspan x="2197">m_ExitStatus</tspan></text><text x="2181" y="1885">-<tspan x="2197">m_bFilesystemContextReady</tspan></text><text x="2181" y="1905">-<tspan x="2197">m_UserReservationGeneration</tspan></text><text x="2181" y="1925">-<tspan x="2197">m_ContinuationEpoch</tspan></text><text x="2181" y="1945">-<tspan x="2197">m_nThreadJoinOperations</tspan></text><text x="2181" y="1965">-<tspan x="2197">m_bThreadJoinAdmissionClosed</tspan></text><text x="2181" y="1985">-<tspan x="2197">m_nExternalLeases</tspan></text><text x="2181" y="2005">-<tspan x="2197">m_bExternalLeaseAdmission</tspan></text><text x="2197" y="2019">Closed</text><text x="2197" y="2039">and 19 more...</text>
<text x="2181" y="2059">+<tspan x="2197">Process()</tspan></text><text x="2181" y="2079">+<tspan x="2197">Process()</tspan></text><text x="2181" y="2099">+<tspan x="2197">~Process()</tspan></text><text x="2181" y="2119">+<tspan x="2197">addThread()</tspan></text><text x="2181" y="2139">+<tspan x="2197">threadExiting()</tspan></text><text x="2181" y="2159">+<tspan x="2197">transferExecProcessSignals()</tspan></text><text x="2181" y="2179">+<tspan x="2197">removeThread()</tspan></text><text x="2181" y="2199">+<tspan x="2197">getNumThreads()</tspan></text><text x="2181" y="2219">+<tspan x="2197">acquireThread()</tspan></text><text x="2181" y="2239">+<tspan x="2197">acquireProcessSignalThread()</tspan></text><text x="2197" y="2259">and 87 more...</text><text x="2181" y="2279">+<tspan x="2197">currentFilesystemCredentials()</tspan></text><text x="2181" y="2299">+<tspan x="2197">getInit()</tspan></text><text x="2181" y="2319">+<tspan x="2197">setInit()</tspan></text><text x="2181" y="2339">#<tspan x="2197">publishAccountIdentity()</tspan></text><text x="2181" y="2359">#<tspan x="2197">Process()</tspan></text><text x="2181" y="2379">#<tspan x="2197">Process()</tspan></text><text x="2181" y="2399">#<tspan x="2197">publish()</tspan></text><text x="2181" y="2419">#<tspan x="2197">prepareForDestruction()</tspan></text><text x="2181" y="2439">#<tspan x="2197">enableTimeAccountingReports()</tspan></text><text x="2181" y="2459">#<tspan x="2197">setTimeAccountingReportInterest()</tspan></text><text x="2181" y="2479">#<tspan x="2197">loadFilesystemIds()</tspan></text><text x="2181" y="2499">#<tspan x="2197">publishFilesystemIds()</tspan></text><text x="2181" y="2519">-<tspan x="2197">finishTermination()</tspan></text><text x="2181" y="2539">-<tspan x="2197">Process()</tspan></text><text x="2181" y="2559">-<tspan x="2197">operator=()</tspan></text><text x="2181" y="2579">-<tspan x="2197">reportTimesUpdated()</tspan></text><text x="2181" y="2599">-<tspan x="2197">drainDeferredTimeAccounting()</tspan></text><text x="2181" y="2619">-<tspan x="2197">closeDeferredTimeAccounting()</tspan></text><text x="2181" y="2639">-<tspan x="2197">totalTime()</tspan></text><text x="2181" y="2659">-<tspan x="2197">reportTimeAccounting()</tspan></text><text x="2181" y="2679">-<tspan x="2197">queueTimeAccountingReport()</tspan></text><text x="2181" y="2699">-<tspan x="2197">processTerminated()</tspan></text><text x="2197" y="2719">and 15 more...</text></g>
<g id="ThreadPlacement" class="n nb"><rect x="79" y="2216" width="128" height="82"/><path d="M79 2238H207M79 2258H207"/><text class="t" x="143" y="2232">ThreadPlacement</text>
<text x="89" y="2253">+<tspan x="109">migratable</tspan></text><text x="89" y="2273">+<tspan x="109">initialUser()</tspan></text><text x="89" y="2293">+<tspan x="109">inherit()</tspan></text></g>
<g id="ListEvent" class="n no"><rect x="675" y="2116" width="122" height="282"/><path d="M675 2138H797M675 2178H797"/><text class="t" x="736" y="2132">List&lt; Event * &gt;</text>
<text x="683" y="2153">-<tspan x="699">m_Count</tspan></text><text x="683" y="2173">-<tspan x="699">m_Magic</tspan></text>
<text x="683" y="2193">+<tspan x="699">List()</tspan></text><text x="683" y="2213">+<tspan x="699">List()</tspan></text><text x="683" y="2233">+<tspan x="699">~List()</tspan></text><text x="683" y="2253">+<tspan x="699">operator=()</tspan></text><text x="683" y="2273">+<tspan x="699">size()</tspan></text><text x="683" y="2293">+<tspan x="699">count()</tspan></text><text x="683" y="2313">+<tspan x="699">pushBack()</tspan></text><text x="683" y="2333">+<tspan x="699">pushBack()</tspan></text><text x="683" y="2353">+<tspan x="699">tryPushBack()</tspan></text><text x="683" y="2373">+<tspan x="699">tryPushBack()</tspan></text><text x="699" y="2393">and 16 more...</text></g>
<g id="AlternateSignalStack" class="n ng"><rect x="822" y="2195" width="202" height="122"/><path d="M822 2217H1024M822 2297H1024"/><text class="t" x="923" y="2211">Thread::AlternateSignalStack</text>
<text x="834" y="2232">+<tspan x="856">base</tspan></text><text x="834" y="2252">+<tspan x="856">size</tspan></text><text x="834" y="2272">+<tspan x="856">enabled</tspan></text><text x="834" y="2292">+<tspan x="856">inUse</tspan></text><text x="834" y="2312">+<tspan x="856">AlternateSignalStack()</tspan></text></g>
<g id="ExecutionPersonality" class="n ng"><rect x="1049" y="2176" width="150" height="162"/><path d="M1049 2198H1199M1049 2278H1199"/><text class="t" x="1124" y="2192">ExecutionPersonality</text>
<text x="1071" y="2213">+<tspan x="1100">Native</tspan></text><text x="1071" y="2233">+<tspan x="1100">Linux32</tspan></text><text x="1071" y="2253">+<tspan x="1100">Query</tspan></text><text x="1071" y="2273">-<tspan x="1100">m_Value</tspan></text>
<text x="1071" y="2293">+<tspan x="1100">value()</tspan></text><text x="1071" y="2313">+<tspan x="1100">select()</tspan></text><text x="1071" y="2333">+<tspan x="1100">inherit()</tspan></text></g>
<g id="DeferredScopeRecord" class="n nb"><rect x="1224" y="2155" width="180" height="202"/><path d="M1224 2177H1404M1224 2317H1404"/><text class="t" x="1314" y="2171">DeferredScopeRecord</text>
<text x="1232" y="2192">+<tspan x="1248">stateLevel</tspan></text><text x="1232" y="2212">+<tspan x="1248">sequence</tspan></text><text x="1232" y="2232">+<tspan x="1248">defersTermination</tspan></text><text x="1232" y="2252">+<tspan x="1248">defersEvents</tspan></text><text x="1232" y="2272">+<tspan x="1248">cleanup</tspan></text><text x="1232" y="2292">+<tspan x="1248">context</tspan></text><text x="1232" y="2312">+<tspan x="1248">armed</tspan></text>
<text x="1232" y="2332">+<tspan x="1248">DeferredScopeRecord()</tspan></text><text x="1232" y="2352">-<tspan x="1248">DeferredScopeRecord()</tspan></text></g>
<g id="ThreadTimeAccounting" class="n nr"><rect x="1497" y="2145" width="220" height="222"/><path d="M1497 2167H1717M1497 2187H1717"/><text class="t" x="1607" y="2161">ThreadTimeAccounting</text>
<text x="1505" y="2202">+<tspan x="1521">ThreadTimeAccounting()</tspan></text><text x="1505" y="2222">+<tspan x="1521">record()</tspan></text><text x="1505" y="2242">+<tspan x="1521">recordAtInterrupt()</tspan></text><text x="1505" y="2262">+<tspan x="1521">elapsed()</tspan></text><text x="1505" y="2282">+<tspan x="1521">elapsedAtInterrupt()</tspan></text><text x="1505" y="2302">-<tspan x="1521">entry()</tspan></text><text x="1505" y="2322">-<tspan x="1521">ThreadTimeAccounting()</tspan></text><text x="1505" y="2342">-<tspan x="1521">operator=()</tspan></text><text x="1505" y="2362">-<tspan x="1521">installProcessBaseline()</tspan></text></g>
<g id="Thread" class="n nb"><rect x="1201" y="2841" width="238" height="976"/><path d="M1201 2863H1439M1201 3083H1439"/><text class="t" x="1320" y="2857">Thread</text>
<text x="1209" y="2878">-<tspan x="1225">m_nStateLevel</tspan></text><text x="1209" y="2898">-<tspan x="1225">m_FilesystemUid</tspan></text><text x="1209" y="2918">-<tspan x="1225">m_FilesystemGid</tspan></text><text x="1209" y="2938">-<tspan x="1225">m_FilesystemIdsValid</tspan></text><text x="1209" y="2958">-<tspan x="1225">m_UserTime</tspan></text><text x="1209" y="2978">-<tspan x="1225">m_KernelTime</tspan></text><text x="1209" y="2998">-<tspan x="1225">m_CurrentTimeAccountingMode</tspan></text><text x="1209" y="3018">-<tspan x="1225">m_pAllocatedStack</tspan></text><text x="1209" y="3038">-<tspan x="1225">m_Id</tspan></text><text x="1209" y="3058">-<tspan x="1225">m_TaskId</tspan></text><text x="1225" y="3078">and 55 more...</text>
<text x="1209" y="3098">+<tspan x="1225">currentUserReturnFrame()</tspan></text><text x="1209" y="3118">+<tspan x="1225">tryRequireSignalFrames()</tspan></text><text x="1209" y="3138">+<tspan x="1225">clearSignalFrameRequirement()</tspan></text><text x="1209" y="3158">+<tspan x="1225">setUserReturnSignalParked()</tspan></text><text x="1209" y="3178">+<tspan x="1225">canSkipUserReturnWork()</tspan></text><text x="1209" y="3198">+<tspan x="1225">clearUserReturnWorkIfIdle()</tspan></text><text x="1209" y="3218">+<tspan x="1225">userReturnWorkPending()</tspan></text><text x="1209" y="3238">+<tspan x="1225">requiresSignalFrames()</tspan></text><text x="1209" y="3258">+<tspan x="1225">Thread()</tspan></text><text x="1209" y="3278">+<tspan x="1225">Thread()</tspan></text><text x="1225" y="3298">and 127 more...</text><text x="1209" y="3318">+<tspan x="1225">threadExited()</tspan></text><text x="1209" y="3338">#<tspan x="1225">setScheduler()</tspan></text><text x="1209" y="3358">#<tspan x="1225">deferEvents()</tspan></text><text x="1209" y="3378">#<tspan x="1225">resumeEvents()</tspan></text><text x="1209" y="3398">#<tspan x="1225">deferTermination()</tspan></text><text x="1209" y="3418">#<tspan x="1225">resumeTermination()</tspan></text><text x="1209" y="3438">#<tspan x="1225">markUserReturnWorkFlag()</tspan></text><text x="1209" y="3458">#<tspan x="1225">clearUserReturnWorkFlag()</tspan></text><text x="1209" y="3478">#<tspan x="1225">markUserReturnWorkPending()</tspan></text><text x="1209" y="3498">#<tspan x="1225">registerDeferredScope()</tspan></text><text x="1209" y="3518">#<tspan x="1225">armStateCleanup()</tspan></text><text x="1225" y="3538">and 10 more...</text><text x="1209" y="3558">-<tspan x="1225">registerFreshTermination</tspan></text><text x="1225" y="3572">Deferral()</text><text x="1209" y="3592">-<tspan x="1225">Thread()</tspan></text><text x="1209" y="3612">-<tspan x="1225">operator=()</tspan></text><text x="1209" y="3632">-<tspan x="1225">publishTimeAccounting()</tspan></text><text x="1209" y="3652">-<tspan x="1225">initialisePlacement()</tspan></text><text x="1209" y="3672">-<tspan x="1225">publishReadyNotification()</tspan></text><text x="1209" y="3692">-<tspan x="1225">cleanStateLevel()</tspan></text><text x="1209" y="3712">-<tspan x="1225">beginTemporarySignalMask()</tspan></text><text x="1209" y="3732">-<tspan x="1225">finishTemporarySignalMask()</tspan></text><text x="1209" y="3752">-<tspan x="1225">waitForEventInternal()</tspan></text><text x="1225" y="3772">and 23 more...</text><text x="1209" y="3792">-<tspan x="1225">discardJoin()</tspan></text></g>
<g id="Subsystem" class="n nb"><rect x="2427" y="3131" width="204" height="376"/><path d="M2427 3153H2631M2427 3173H2631"/><text class="t" x="2529" y="3147">Subsystem</text>
<text x="2435" y="3168">#<tspan x="2451">m_Type</tspan></text>
<text x="2435" y="3188">+<tspan x="2451">userReturnCheckpoint()</tspan></text><text x="2435" y="3208">+<tspan x="2451">userReturnEvent()</tspan></text><text x="2435" y="3228">+<tspan x="2451">Subsystem()</tspan></text><text x="2435" y="3248">+<tspan x="2451">Subsystem()</tspan></text><text x="2435" y="3268">+<tspan x="2451">Subsystem()</tspan></text><text x="2435" y="3288">+<tspan x="2451">~Subsystem()</tspan></text><text x="2435" y="3308">+<tspan x="2451">acquire()</tspan></text><text x="2435" y="3328">+<tspan x="2451">release()</tspan></text><text x="2435" y="3348">+<tspan x="2451">exit()</tspan></text><text x="2435" y="3368">+<tspan x="2451">kill()</tspan></text><text x="2451" y="3388">and 8 more...</text><text x="2435" y="3408">#<tspan x="2451">prepareThreadsForExec()</tspan></text><text x="2435" y="3428">#<tspan x="2451">preserveProcessSignalsFor</tspan></text><text x="2451" y="3442">ThreadExit()</text><text x="2435" y="3462">#<tspan x="2451">threadExiting()</tspan></text><text x="2435" y="3482">#<tspan x="2451">threadRemoved()</tspan></text><text x="2435" y="3502">-<tspan x="2451">operator=()</tspan></text></g>
<g id="WaitQueueChannel" class="n ng"><rect x="2658" y="3272" width="150" height="102"/><path d="M2658 3294H2808M2658 3334H2808"/><text class="t" x="2733" y="3288">WaitQueue::Channel</text>
<text x="2668" y="3309">+<tspan x="2688">owner</tspan></text><text x="2668" y="3329">+<tspan x="2688">value</tspan></text><text x="2668" y="3349">+<tspan x="2688">Channel()</tspan></text><text x="2668" y="3369">+<tspan x="2688">operator==()</tspan></text></g>
<g id="DeferredThreadReapNode" class="n nb"><rect x="1170" y="4078" width="207" height="62"/><path d="M1170 4100H1377M1170 4120H1377"/><text class="t" x="1273" y="4094">DeferredThreadReapNode</text>
<text x="1178" y="4135">+<tspan x="1194">DeferredThreadReapNode()</tspan></text></g>
<g id="OwnedThread" class="n nb"><rect x="1505" y="4307" width="140" height="262"/><path d="M1505 4329H1645M1505 4349H1645"/><text class="t" x="1575" y="4323">OwnedThread</text>
<text x="1513" y="4364">+<tspan x="1529">OwnedThread()</tspan></text><text x="1513" y="4384">+<tspan x="1529">OwnedThread()</tspan></text><text x="1513" y="4404">+<tspan x="1529">~OwnedThread()</tspan></text><text x="1513" y="4424">+<tspan x="1529">adopt()</tspan></text><text x="1513" y="4444">+<tspan x="1529">stop()</tspan></text><text x="1513" y="4464">+<tspan x="1529">join()</tspan></text><text x="1513" y="4484">+<tspan x="1529">get()</tspan></text><text x="1513" y="4504">+<tspan x="1529">operator-&gt;()</tspan></text><text x="1513" y="4524">+<tspan x="1529">operator bool()</tspan></text><text x="1513" y="4544">-<tspan x="1529">OwnedThread()</tspan></text><text x="1513" y="4564">-<tspan x="1529">operator=()</tspan></text></g>
<g id="VectorThread" class="n no"><rect x="2000" y="3937" width="142" height="342"/><path d="M2000 3959H2142M2000 4039H2142"/><text class="t" x="2071" y="3953">Vector&lt; Thread * &gt;</text>
<text x="2008" y="3974">-<tspan x="2024">m_Size</tspan></text><text x="2008" y="3994">-<tspan x="2024">m_Count</tspan></text><text x="2008" y="4014">-<tspan x="2024">m_Start</tspan></text><text x="2008" y="4034">-<tspan x="2024">m_ReserveFactor</tspan></text>
<text x="2008" y="4054">+<tspan x="2024">Vector()</tspan></text><text x="2008" y="4074">+<tspan x="2024">Vector()</tspan></text><text x="2008" y="4094">+<tspan x="2024">Vector()</tspan></text><text x="2008" y="4114">+<tspan x="2024">~Vector()</tspan></text><text x="2008" y="4134">+<tspan x="2024">operator=()</tspan></text><text x="2008" y="4154">+<tspan x="2024">operator[]()</tspan></text><text x="2008" y="4174">+<tspan x="2024">operator[]()</tspan></text><text x="2008" y="4194">+<tspan x="2024">size()</tspan></text><text x="2008" y="4214">+<tspan x="2024">count()</tspan></text><text x="2008" y="4234">+<tspan x="2024">pushBack()</tspan></text><text x="2024" y="4254">and 25 more...</text><text x="2008" y="4274">-<tspan x="2024">reserve()</tspan></text></g>
<g id="WaitQueueWaiter" class="n ng"><rect x="2167" y="3957" width="179" height="302"/><path d="M2167 3979H2346M2167 4099H2346"/><text class="t" x="2256" y="3973">WaitQueue::Waiter</text>
<text x="2175" y="3994">+<tspan x="2191">channelGeneration</tspan></text><text x="2175" y="4014">+<tspan x="2191">stateLevel</tspan></text><text x="2175" y="4034">+<tspan x="2191">reason</tspan></text><text x="2175" y="4054">+<tspan x="2191">queued</tspan></text><text x="2175" y="4074">+<tspan x="2191">legacyOnAbandon</tspan></text><text x="2175" y="4094">+<tspan x="2191">legacyAbandonContext</tspan></text>
<text x="2175" y="4114">+<tspan x="2191">loadQueue()</tspan></text><text x="2175" y="4134">+<tspan x="2191">storeQueue()</tspan></text><text x="2175" y="4154">+<tspan x="2191">loadReason()</tspan></text><text x="2175" y="4174">+<tspan x="2191">storeReason()</tspan></text><text x="2175" y="4194">+<tspan x="2191">isQueued()</tspan></text><text x="2175" y="4214">+<tspan x="2191">setQueued()</tspan></text><text x="2175" y="4234">+<tspan x="2191">storeChannel()</tspan></text><text x="2175" y="4254">+<tspan x="2191">snapshotChannel()</tspan></text></g>
<g id="ThreadStateLevel" class="n nr"><rect x="1719" y="4595" width="258" height="370"/><path d="M1719 4617H1977M1719 4905H1977"/><text class="t" x="1848" y="4611">Thread::StateLevel</text>
<text x="1727" y="4632">+<tspan x="1743">m_State</tspan></text><text x="1727" y="4652">+<tspan x="1743">m_SignalMask</tspan></text><text x="1727" y="4672">+<tspan x="1743">m_SavedSignalMask</tspan></text><text x="1727" y="4692">+<tspan x="1743">m_TemporarySignalMaskActive</tspan></text><text x="1727" y="4712">+<tspan x="1743">m_TemporarySignalWaitInterrupted</tspan></text><text x="1727" y="4732">+<tspan x="1743">m_DeferredSignalMaskRestore</tspan></text><text x="1727" y="4752">+<tspan x="1743">m_DispatchedSignalNumber</tspan></text><text x="1727" y="4772">+<tspan x="1743">m_DispatchedSignalContinuation</tspan></text><text x="1743" y="4786">Epoch</text><text x="1727" y="4806">+<tspan x="1743">m_bOwnsAlternateSignalStack</tspan></text><text x="1727" y="4826">+<tspan x="1743">m_Errno</tspan></text><text x="1727" y="4846">+<tspan x="1743">m_InterruptionReason</tspan></text><text x="1727" y="4866">+<tspan x="1743">m_bDispatchingWaitEvent</tspan></text><text x="1727" y="4886">+<tspan x="1743">m_bTerminalWaitCancelled</tspan></text><text x="1743" y="4900">BeforeBlock</text>
<text x="1727" y="4920">+<tspan x="1743">StateLevel()</tspan></text><text x="1727" y="4940">+<tspan x="1743">~StateLevel()</tspan></text><text x="1727" y="4960">+<tspan x="1743">operator=()</tspan></text></g>
<g id="WaitQueue" class="n nb"><rect x="2342" y="4600" width="199" height="382"/><path d="M2342 4622H2541M2342 4662H2541"/><text class="t" x="2441" y="4616">WaitQueue</text>
<text x="2350" y="4637">-<tspan x="2366">m_WaiterCount</tspan></text><text x="2350" y="4657">-<tspan x="2366">m_WaitIntent</tspan></text>
<text x="2350" y="4677">+<tspan x="2366">WaitQueue()</tspan></text><text x="2350" y="4697">+<tspan x="2366">~WaitQueue()</tspan></text><text x="2350" y="4717">+<tspan x="2366">acquire()</tspan></text><text x="2350" y="4737">+<tspan x="2366">wakeOne()</tspan></text><text x="2350" y="4757">+<tspan x="2366">wakeAll()</tspan></text><text x="2350" y="4777">+<tspan x="2366">wakeAllIfWaiting()</tspan></text><text x="2350" y="4797">+<tspan x="2366">waiterCount()</tspan></text><text x="2350" y="4817">-<tspan x="2366">wait()</tspan></text><text x="2350" y="4837">-<tspan x="2366">wakeOneLocked()</tspan></text><text x="2350" y="4857">-<tspan x="2366">wakeAllLocked()</tspan></text><text x="2350" y="4877">-<tspan x="2366">wakeAndRequeueLocked()</tspan></text><text x="2350" y="4897">-<tspan x="2366">completeWaiter()</tspan></text><text x="2350" y="4917">-<tspan x="2366">removeWaiterLocked()</tspan></text><text x="2350" y="4937">-<tspan x="2366">clearWaitIntentIfEmpty()</tspan></text><text x="2350" y="4957">-<tspan x="2366">cancel()</tspan></text><text x="2350" y="4977">-<tspan x="2366">publishReady()</tspan></text></g>
<g id="ConditionVariable" class="n nb"><rect x="2298" y="5418" width="162" height="222"/><path d="M2298 5440H2460M2298 5460H2460"/><text class="t" x="2379" y="5434">ConditionVariable</text>
<text x="2304" y="5455">-<tspan x="2318">m_Private</tspan></text>
<text x="2304" y="5475">+<tspan x="2318">ConditionVariable()</tspan></text><text x="2304" y="5495">+<tspan x="2318">~ConditionVariable()</tspan></text><text x="2304" y="5515">+<tspan x="2318">wait()</tspan></text><text x="2304" y="5535">+<tspan x="2318">wait()</tspan></text><text x="2304" y="5555">+<tspan x="2318">waitForCompletion()</tspan></text><text x="2304" y="5575">+<tspan x="2318">signal()</tspan></text><text x="2304" y="5595">+<tspan x="2318">broadcast()</tspan></text><text x="2304" y="5615">-<tspan x="2318">ConditionVariable()</tspan></text><text x="2304" y="5635">-<tspan x="2318">operator=()</tspan></text></g>
<g id="OperationBarrier" class="n nb"><rect x="2484" y="5358" width="256" height="282"/><path d="M2484 5380H2740M2484 5440H2740"/><text class="t" x="2612" y="5374">OperationBarrier</text>
<text x="2492" y="5395">-<tspan x="2508">m_State</tspan></text><text x="2492" y="5415">-<tspan x="2508">Closed</tspan></text><text x="2492" y="5435">-<tspan x="2508">CountMask</tspan></text>
<text x="2492" y="5455">+<tspan x="2508">OperationBarrier()</tspan></text><text x="2492" y="5475">+<tspan x="2508">~OperationBarrier()</tspan></text><text x="2492" y="5495">+<tspan x="2508">tryEnter()</tspan></text><text x="2492" y="5515">+<tspan x="2508">tryAcquire()</tspan></text><text x="2492" y="5535">+<tspan x="2508">leave()</tspan></text><text x="2492" y="5555">+<tspan x="2508">close()</tspan></text><text x="2492" y="5575">+<tspan x="2508">tryCloseIfIdle()</tspan></text><text x="2492" y="5595">+<tspan x="2508">wait()</tspan></text><text x="2492" y="5615">+<tspan x="2508">isClosed()</tspan></text><text x="2492" y="5635">-<tspan x="2508">NOT_COPYABLE_OR_ASSIGNABLE()</tspan></text></g>
<g id="SchedulerWorkerWake" class="n nb"><rect x="2765" y="5488" width="182" height="62"/><path d="M2765 5510H2947M2765 5530H2947"/><text class="t" x="2856" y="5504">SchedulerWorkerWake</text>
<text x="2773" y="5545">+<tspan x="2789">SchedulerWorkerWake()</tspan></text></g>
<g id="IntrusiveMpscQueue" class="n no"><rect x="1200" y="5022" width="202" height="280"/><path d="M1200 5082H1402M1200 5102H1402"/><text class="t" x="1301" y="5038">IntrusiveMpscQueue&lt; Deferred</text><text class="t" x="1301" y="5054">ThreadReapNode, &amp;DeferredThread</text><text class="t" x="1301" y="5070">ReapNode::next &gt;</text>
<text x="1210" y="5117">+<tspan x="1230">IntrusiveMpscQueue()</tspan></text><text x="1210" y="5137">+<tspan x="1230">push()</tspan></text><text x="1210" y="5157">+<tspan x="1230">pop()</tspan></text><text x="1210" y="5177">-<tspan x="1230">IntrusiveMpscQueue()</tspan></text><text x="1210" y="5197">-<tspan x="1230">operator=()</tspan></text><text x="1210" y="5217">-<tspan x="1230">beginPush()</tspan></text><text x="1210" y="5237">-<tspan x="1230">loadHead()</tspan></text><text x="1210" y="5257">-<tspan x="1230">finishPush()</tspan></text><text x="1210" y="5277">-<tspan x="1230">loadNext()</tspan></text><text x="1210" y="5297">-<tspan x="1230">storeNext()</tspan></text></g>
<g id="SchedulerTimerHandler" class="n nb"><rect x="531" y="5477" width="202" height="82"/><path d="M531 5499H733M531 5519H733"/><text class="t" x="632" y="5493">SchedulerTimerHandler</text>
<text x="539" y="5534">+<tspan x="555">timer()</tspan></text><text x="539" y="5554">#<tspan x="555">~SchedulerTimerHandler()</tspan></text></g>
<g id="SchedulingAlgorithm" class="n nb"><rect x="758" y="5437" width="186" height="162"/><path d="M758 5459H944M758 5479H944"/><text class="t" x="851" y="5453">SchedulingAlgorithm</text>
<text x="766" y="5494">+<tspan x="782">~SchedulingAlgorithm()</tspan></text><text x="766" y="5514">+<tspan x="782">addThread()</tspan></text><text x="766" y="5534">+<tspan x="782">removeThread()</tspan></text><text x="766" y="5554">+<tspan x="782">getNext()</tspan></text><text x="766" y="5574">+<tspan x="782">hasReady()</tspan></text><text x="766" y="5594">+<tspan x="782">threadStatusChanged()</tspan></text></g>
<g id="ListVoid" class="n no"><rect x="968" y="5378" width="123" height="282"/><path d="M968 5400H1091M968 5440H1091"/><text class="t" x="1029" y="5394">List&lt; void * &gt;</text>
<text x="976" y="5415">-<tspan x="992">m_Count</tspan></text><text x="976" y="5435">-<tspan x="992">m_Magic</tspan></text>
<text x="976" y="5455">+<tspan x="992">List()</tspan></text><text x="976" y="5475">+<tspan x="992">List()</tspan></text><text x="976" y="5495">+<tspan x="992">~List()</tspan></text><text x="976" y="5515">+<tspan x="992">operator=()</tspan></text><text x="976" y="5535">+<tspan x="992">size()</tspan></text><text x="976" y="5555">+<tspan x="992">count()</tspan></text><text x="976" y="5575">+<tspan x="992">pushBack()</tspan></text><text x="976" y="5595">+<tspan x="992">pushBack()</tspan></text><text x="976" y="5615">+<tspan x="992">tryPushBack()</tspan></text><text x="976" y="5635">+<tspan x="992">tryPushBack()</tspan></text><text x="992" y="5655">and 16 more...</text></g>
<g id="DeferredTimeAccountingWorkerState" class="n nb"><rect x="1115" y="5376" width="236" height="288"/><path d="M1115 5416H1351M1115 5476H1351"/><text class="t" x="1233" y="5392">DeferredTimeAccountingWorker</text><text class="t" x="1233" y="5408">State</text>
<text x="1123" y="5431">-<tspan x="1139">m_Published</tspan></text><text x="1123" y="5451">-<tspan x="1139">m_Completed</tspan></text><text x="1123" y="5471">-<tspan x="1139">m_Active</tspan></text>
<text x="1123" y="5491">+<tspan x="1139">DeferredTimeAccountingWorker</tspan></text><text x="1139" y="5505">State()</text><text x="1123" y="5525">+<tspan x="1139">publish()</tspan></text><text x="1123" y="5545">+<tspan x="1139">beginBatch()</tspan></text><text x="1123" y="5565">+<tspan x="1139">finishBatch()</tspan></text><text x="1123" y="5585">+<tspan x="1139">ready()</tspan></text><text x="1123" y="5605">+<tspan x="1139">caughtUp()</tspan></text><text x="1123" y="5625">-<tspan x="1139">DeferredTimeAccountingWorker</tspan></text><text x="1139" y="5639">State()</text><text x="1123" y="5659">-<tspan x="1139">operator=()</tspan></text></g>
<g id="PerProcessorScheduler" class="n ng"><rect x="1527" y="5791" width="264" height="890"/><path d="M1527 5813H1791M1527 6093H1791"/><text class="t" x="1659" y="5807">PerProcessorScheduler</text>
<text x="1537" y="5828">-<tspan x="1553">m_NewThreadAdmissionOpen</tspan></text><text x="1537" y="5848">-<tspan x="1553">m_StopNewThreadWorker</tspan></text><text x="1537" y="5868">-<tspan x="1553">m_AffinityAdmissionOpen</tspan></text><text x="1537" y="5888">-<tspan x="1553">m_LogicalCpu</tspan></text><text x="1537" y="5908">-<tspan x="1553">m_PhysicalCpu</tspan></text><text x="1537" y="5928">-<tspan x="1553">m_NominalQuantumNs</tspan></text><text x="1537" y="5948">-<tspan x="1553">m_QuantumDeadline</tspan></text><text x="1537" y="5968">-<tspan x="1553">m_NextLoadSampleDeadline</tspan></text><text x="1537" y="5988">-<tspan x="1553">m_OneShotTimer</tspan></text><text x="1537" y="6008">-<tspan x="1553">m_IdleWakeRequested</tspan></text><text x="1537" y="6028">-<tspan x="1553">m_SchedulerTickCounter</tspan></text><text x="1537" y="6048">-<tspan x="1553">m_UserReturnDiagnosticSequence</tspan></text><text x="1537" y="6068">-<tspan x="1553">DeferredReapPublicationClosed</tspan></text><text x="1537" y="6088">-<tspan x="1553">DeferredReapPublicationCountMask</tspan></text>
<text x="1537" y="6108">+<tspan x="1553">PerProcessorScheduler()</tspan></text><text x="1537" y="6128">+<tspan x="1553">~PerProcessorScheduler()</tspan></text><text x="1537" y="6148">+<tspan x="1553">initialise()</tspan></text><text x="1537" y="6168">+<tspan x="1553">checkEventState()</tspan></text><text x="1537" y="6188">+<tspan x="1553">eventHandlerReturned()</tspan></text><text x="1537" y="6208">+<tspan x="1553">addThread()</tspan></text><text x="1537" y="6228">+<tspan x="1553">addThread()</tspan></text><text x="1537" y="6248">+<tspan x="1553">commitCurrentThreadExit()</tspan></text><text x="1537" y="6268">+<tspan x="1553">abandonCurrentThreadStack()</tspan></text><text x="1537" y="6288">+<tspan x="1553">requestCurrentThreadExit</tspan></text><text x="1553" y="6302">ToIdle()</text><text x="1553" y="6322">and 22 more...</text><text x="1537" y="6342">+<tspan x="1553">stackDiscardCount()</tspan></text><text x="1537" y="6362">+<tspan x="1553">stackDiscardCount()</tspan></text><text x="1537" y="6382">-<tspan x="1553">killCurrentThread()</tspan></text><text x="1537" y="6402">-<tspan x="1553">schedule()</tspan></text><text x="1537" y="6422">-<tspan x="1553">scheduleWithInterruptState()</tspan></text><text x="1537" y="6442">-<tspan x="1553">blockCurrent()</tspan></text><text x="1537" y="6462">-<tspan x="1553">publishReadyFromWait()</tspan></text><text x="1537" y="6482">-<tspan x="1553">finishCurrentThreadExit()</tspan></text><text x="1537" y="6502">-<tspan x="1553">serviceDeferredSubsystem</tspan></text><text x="1553" y="6516">Exception()</text><text x="1537" y="6536">-<tspan x="1553">checkEventState()</tspan></text><text x="1537" y="6556">-<tspan x="1553">checkEventState()</tspan></text><text x="1537" y="6576">-<tspan x="1553">PerProcessorScheduler()</tspan></text><text x="1553" y="6596">and 16 more...</text><text x="1537" y="6616">-<tspan x="1553">deleteThreadThenRestoreState()</tspan></text><text x="1537" y="6636">-<tspan x="1553">deleteThread()</tspan></text><text x="1537" y="6656">-<tspan x="1553">timeAccountingWorkerEntry()</tspan></text><text x="1537" y="6676">-<tspan x="1553">processorAddThread()</tspan></text></g>
<g id="Semaphore" class="n nb"><rect x="3660" y="4900" width="230" height="382"/><path d="M3660 4922H3890M3660 4962H3890"/><text class="t" x="3775" y="4916">Semaphore</text>
<text x="3668" y="4937">-<tspan x="3684">magic</tspan></text><text x="3668" y="4957">-<tspan x="3684">m_bControlling</tspan></text>
<text x="3668" y="4977">+<tspan x="3684">Semaphore()</tspan></text><text x="3668" y="4997">+<tspan x="3684">~Semaphore()</tspan></text><text x="3668" y="5017">+<tspan x="3684">acquireWithResult()</tspan></text><text x="3668" y="5037">+<tspan x="3684">acquireWithCompletion()</tspan></text><text x="3668" y="5057">+<tspan x="3684">acquire()</tspan></text><text x="3668" y="5077">+<tspan x="3684">tryAcquire()</tspan></text><text x="3668" y="5097">+<tspan x="3684">drainAvailable()</tspan></text><text x="3668" y="5117">+<tspan x="3684">release()</tspan></text><text x="3668" y="5137">+<tspan x="3684">getValue()</tspan></text><text x="3668" y="5157">#<tspan x="3684">getDebugProducerIdent()</tspan></text><text x="3668" y="5177">#<tspan x="3684">initializeWithLimit()</tspan></text><text x="3668" y="5197">#<tspan x="3684">destroyMutex()</tspan></text><text x="3668" y="5217">-<tspan x="3684">maybeDemandCurrentThread()</tspan></text><text x="3668" y="5237">-<tspan x="3684">acquireWithDeadlines()</tspan></text><text x="3668" y="5257">-<tspan x="3684">Semaphore()</tspan></text><text x="3668" y="5277">-<tspan x="3684">operator=()</tspan></text></g>
<g id="Root" class="n nx"><rect x="3950" y="6225" width="170" height="44"/><text class="t" x="4035" y="6243">PerProcessorScheduler</text><text class="t" x="4035" y="6259">::Pending</text></g>
</svg>
